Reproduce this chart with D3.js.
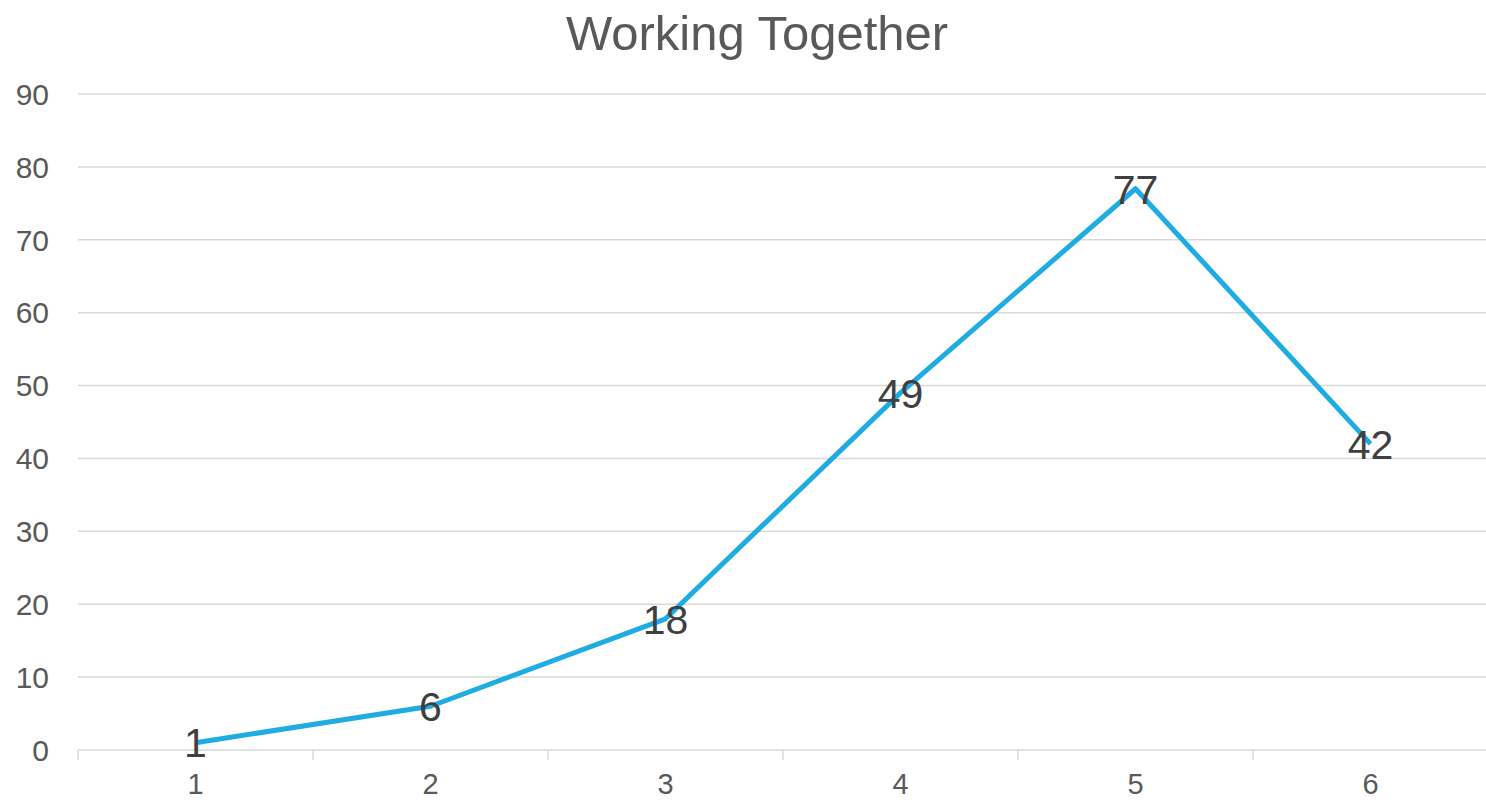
<!DOCTYPE html>
<html><head><meta charset="utf-8">
<script src="https://cdn.jsdelivr.net/npm/d3@7"></script>
<style>html,body{margin:0;padding:0;background:#fff;}svg{display:block;}</style>
</head><body>
<script>
const categories = ["1","2","3","4","5","6"];
const values = [1, 6, 18, 49, 77, 42];
const yTicks = [0,10,20,30,40,50,60,70,80,90];
const title = "Working Together";

const W = 1486, H = 800;
const margin = {left: 78, right: -2, top: 94, bottom: 50};
const svg = d3.select("body").append("svg").attr("width", W).attr("height", H);
const font = "'Liberation Sans', Arial, sans-serif";

const x = d3.scaleBand().domain(categories).range([margin.left, W - margin.right]).padding(0);
const y = d3.scaleLinear().domain([0, 90]).range([H - margin.bottom, margin.top]);

// gridlines
svg.append("g").selectAll("line").data(yTicks).join("line")
  .attr("x1", margin.left).attr("x2", W - margin.right)
  .attr("y1", d => y(d)).attr("y2", d => y(d))
  .attr("stroke", "#d9d9d9").attr("stroke-width", 1.5);

// y labels
svg.append("g").selectAll("text").data(yTicks).join("text")
  .attr("x", 49).attr("y", d => y(d)).attr("dy", "0.36em")
  .attr("text-anchor", "end").attr("font-family", font).attr("font-size", 30)
  .attr("fill", "#595959").text(d => d);

// x ticks
const xEdges = categories.map(c => x(c)).concat([x(categories[categories.length-1]) + x.bandwidth()]);
svg.append("g").selectAll("line").data(xEdges).join("line")
  .attr("x1", d => d).attr("x2", d => d)
  .attr("y1", y(0)).attr("y2", y(0) + 10)
  .attr("stroke", "#d9d9d9").attr("stroke-width", 1.5);

// x labels
svg.append("g").selectAll("text").data(categories).join("text")
  .attr("x", d => x(d) + x.bandwidth()/2).attr("y", 794)
  .attr("text-anchor", "middle").attr("font-family", font).attr("font-size", 29)
  .attr("fill", "#595959").text(d => d);

// line
const line = d3.line().x((d,i) => x(categories[i]) + x.bandwidth()/2).y(d => y(d));
svg.append("path").datum(values).attr("d", line)
  .attr("fill", "none").attr("stroke", "#1eace2").attr("stroke-width", 5)
  .attr("stroke-linejoin", "round");

// data labels
svg.append("g").selectAll("text").data(values).join("text")
  .attr("x", (d,i) => x(categories[i]) + x.bandwidth()/2).attr("y", d => y(d)).attr("dy", "0.36em")
  .attr("text-anchor", "middle").attr("font-family", font).attr("font-size", 41)
  .attr("fill", "#404040").text(d => d);

// title
svg.append("text").attr("x", 757).attr("y", 50)
  .attr("text-anchor", "middle").attr("font-family", font).attr("font-size", 49)
  .attr("fill", "#595959").text(title);
</script>
</body></html>
